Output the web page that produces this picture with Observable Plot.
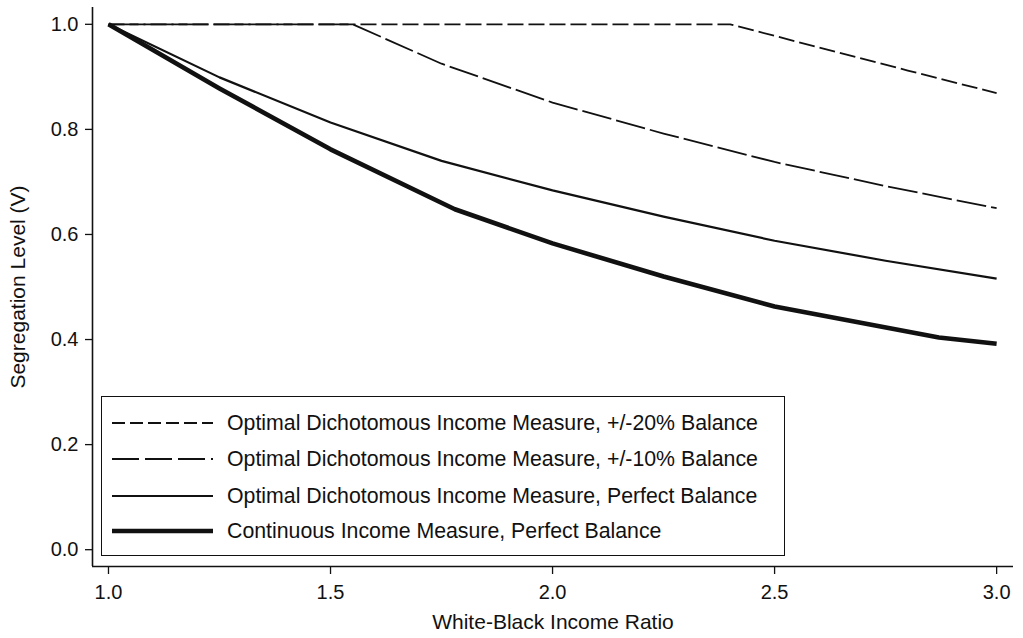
<!DOCTYPE html>
<html>
<head>
<meta charset="utf-8">
<script src="https://cdn.jsdelivr.net/npm/d3@7"></script>
<script src="https://cdn.jsdelivr.net/npm/@observablehq/plot@0.6"></script>
<style>
  body { margin: 0; background: #fff; }
  #wrap { position: relative; width: 1023px; height: 638px; font-family: "Liberation Sans", Arial, Helvetica, sans-serif; }
  #legend { position: absolute; left: 101px; top: 396px; width: 682px; height: 158px; border: 1.6px solid #111; background: #fff; }
  .row { position: absolute; left: 10px; height: 30px; display: flex; align-items: center; }
  .row span { margin-left: 14px; font-size: 21.3px; color: #111; white-space: nowrap; }
</style>
</head>
<body>
<div id="wrap"></div>
<script>
// Data
const series = [
  "Optimal Dichotomous Income Measure, +/-20% Balance",
  "Optimal Dichotomous Income Measure, +/-10% Balance",
  "Optimal Dichotomous Income Measure, Perfect Balance",
  "Continuous Income Measure, Perfect Balance"
];
const x20 = [1.0, 1.5, 2.0, 2.4, 2.6, 2.8, 3.0];
const v20 = [1.0, 1.0, 1.0, 1.0, 0.956, 0.912, 0.869];
const x10 = [1.0, 1.55, 1.75, 2.0, 2.25, 2.5, 2.75, 3.0];
const v10 = [1.0, 1.0, 0.925, 0.851, 0.792, 0.738, 0.692, 0.65];
const xPerf = [1.0, 1.25, 1.5, 1.75, 2.0, 2.25, 2.5, 2.75, 3.0];
const vPerf = [1.0, 0.899, 0.813, 0.74, 0.684, 0.634, 0.588, 0.55, 0.516];
const xCont = [1.0, 1.25, 1.5, 1.78, 2.0, 2.25, 2.5, 2.87, 3.0];
const vCont = [1.0, 0.878, 0.762, 0.648, 0.583, 0.52, 0.463, 0.404, 0.392];
const xTicks = [1.0, 1.5, 2.0, 2.5, 3.0];
const yTicks = [0.0, 0.2, 0.4, 0.6, 0.8, 1.0];
const xLabel = "White-Black Income Ratio";
const yLabel = "Segregation Level (V)";

const styles = [
  {strokeWidth: 1.8, strokeDasharray: "16,5"},
  {strokeWidth: 1.8, strokeDasharray: "30,5"},
  {strokeWidth: 2.2, strokeDasharray: null},
  {strokeWidth: 4.6, strokeDasharray: null}
];

const toRows = (xs, vs) => xs.map((x, i) => ({x, v: vs[i]}));
const data = [toRows(x20, v20), toRows(x10, v10), toRows(xPerf, vPerf), toRows(xCont, vCont)];

const xDomain = [0.964, 3.038];
const yDomain = [-0.032, 1.032];
const font = '"Liberation Sans", Arial, Helvetica, sans-serif';
const fmt = d3.format(".1f");

const lineMarks = data.map((rows, i) => Plot.line(rows, {
  x: "x", y: "v", stroke: "#111", strokeWidth: styles[i].strokeWidth,
  strokeDasharray: styles[i].strokeDasharray, strokeLinejoin: "round", strokeLinecap: "butt"
}));

const chart = Plot.plot({
  width: 1023, height: 638,
  marginLeft: 92, marginRight: 10, marginTop: 7, marginBottom: 72,
  style: {fontFamily: font, color: "#111", background: "#fff"},
  x: {type: "linear", domain: xDomain},
  y: {type: "linear", domain: yDomain},
  marks: [
    Plot.axisX({ticks: xTicks, tickFormat: () => "", tickSize: 8, label: null, strokeWidth: 1.3}),
    Plot.axisY({ticks: yTicks, tickFormat: () => "", tickSize: 7, label: null, strokeWidth: 1.3}),
    Plot.ruleY([yDomain[0]], {stroke: "#111", strokeWidth: 1.6}),
    Plot.ruleX([xDomain[0]], {stroke: "#111", strokeWidth: 1.6}),
    Plot.text(xTicks, {x: d => d, frameAnchor: "bottom", lineAnchor: "middle", dy: 26, text: d => fmt(d), fontSize: 20, fill: "#111"}),
    Plot.text(yTicks, {y: d => d, frameAnchor: "left", lineAnchor: "middle", dx: -14, textAnchor: "end", text: d => fmt(d), fontSize: 20, fill: "#111"}),
    ...lineMarks,
    Plot.text([xLabel], {frameAnchor: "bottom", lineAnchor: "middle", textAnchor: "middle", dy: 56, fontSize: 21, fill: "#111"}),
    Plot.text([yLabel], {frameAnchor: "left", lineAnchor: "middle", textAnchor: "middle", rotate: -90, dx: -74, fontSize: 21, fill: "#111"})
  ]
});

const wrap = document.getElementById("wrap");
wrap.appendChild(chart);

// Legend box overlaid inside the plot
const legend = document.createElement("div");
legend.id = "legend";
const rowTops = [11, 47, 84, 119];
series.forEach((name, i) => {
  const row = document.createElement("div");
  row.className = "row";
  row.style.top = rowTops[i] + "px";
  const s = styles[i];
  row.innerHTML = `<svg width="101" height="30"><line x1="0" x2="101" y1="15" y2="15" stroke="#111" stroke-width="${s.strokeWidth}" ${s.strokeDasharray ? `stroke-dasharray="${i === 0 ? "13,5" : "27,6"}"` : ""}/></svg><span>${name}</span>`;
  legend.appendChild(row);
});
wrap.appendChild(legend);
</script>
</body>
</html>
